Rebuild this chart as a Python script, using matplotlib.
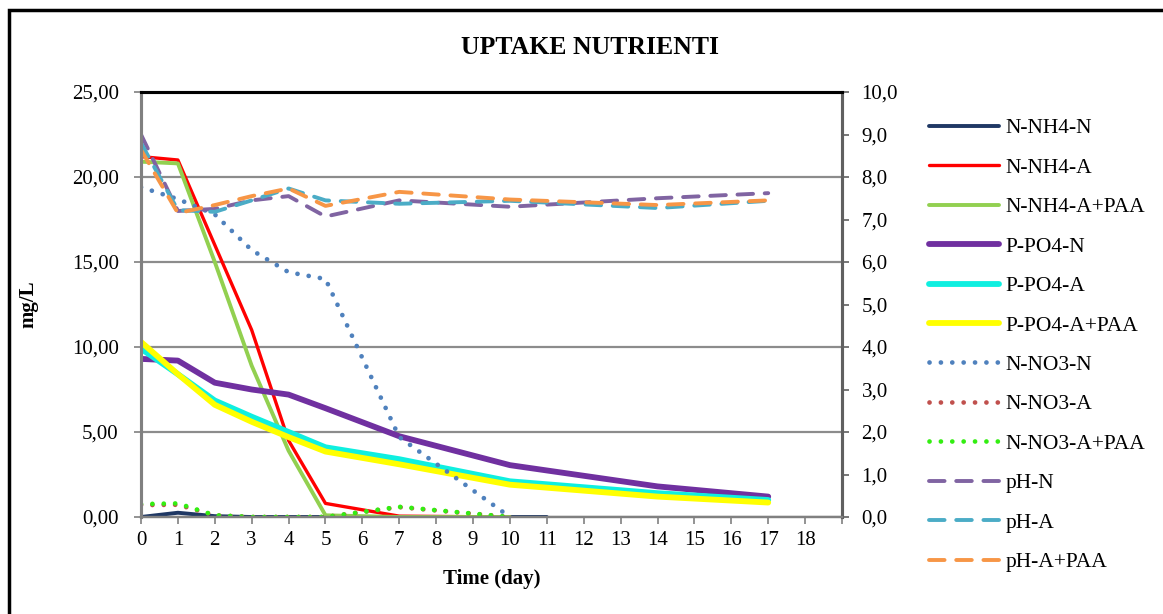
"""Uptake nutrienti: nutrient and pH trends over time."""

import matplotlib

matplotlib.use("Agg")
import matplotlib.pyplot as plt
from matplotlib.patches import Rectangle
from matplotlib.ticker import FuncFormatter

plt.rcParams["font.family"] = ["Liberation Serif", "DejaVu Serif"]

# Sampling days
days = [0, 1, 2, 3, 4, 5, 7, 10, 14, 17]
days_nh4_n = [0, 1, 2, 3, 4, 5, 7, 10, 11]
days_nh4 = [0, 1, 2, 3, 4, 5, 7, 10]
days_no3 = [0, 1, 2, 3, 4, 5, 7, 10]

# Left axis (mg/L)
nh4_n = [0.0, 0.25, 0.05, 0.0, 0.0, 0.0, 0.0, 0.0, 0.0]
nh4_a = [21.2, 21.0, 16.0, 11.0, 4.5, 0.8, 0.05, 0.0]
nh4_a_paa = [20.9, 20.8, 15.0, 8.9, 3.9, 0.1, 0.0, 0.0]
po4_n = [9.3, 9.2, 7.9, 7.5, 7.2, 6.4, 4.75, 3.05, 1.8, 1.2]
po4_a = [9.9, 8.4, 6.85, 5.9, 5.0, 4.1, 3.4, 2.1, 1.4, 1.0]
po4_a_paa = [10.3, 8.4, 6.6, 5.6, 4.7, 3.85, 3.1, 1.9, 1.2, 0.85]
no3_n = [19.4, 18.7, 17.8, 15.7, 14.4, 14.0, 4.7, 0.0]
no3_a = [0.7, 0.72, 0.1, 0.0, 0.0, 0.0, 0.58, 0.0]
no3_a_paa = [0.76, 0.8, 0.1, 0.0, 0.0, 0.0, 0.6, 0.0]

# Right axis (pH)
ph_n = [9.0, 7.2, 7.25, 7.45, 7.55, 7.07, 7.45, 7.3, 7.5, 7.62]
ph_a = [8.8, 7.22, 7.18, 7.45, 7.73, 7.45, 7.37, 7.44, 7.27, 7.44]
ph_a_paa = [8.64, 7.15, 7.34, 7.55, 7.73, 7.32, 7.65, 7.47, 7.34, 7.45]

fig = plt.figure(figsize=(11.63, 6.14), dpi=100)
ax = fig.add_axes([141 / 1163, 1 - 517 / 614, 701 / 1163, 425 / 614])
ax2 = ax.twinx()

solid = dict(solid_capstyle="round", solid_joinstyle="round")
h1, = ax.plot(days_nh4_n, nh4_n, color="#1F3864", lw=2.8, label="N-NH4-N", **solid)
h2, = ax.plot(days_nh4, nh4_a, color="#FF0000", lw=2.4, label="N-NH4-A", **solid)
h3, = ax.plot(days_nh4, nh4_a_paa, color="#92D050", lw=2.8, label="N-NH4-A+PAA", **solid)
h4, = ax.plot(days, po4_n, color="#7030A0", lw=4.2, label="P-PO4-N", **solid)
h5, = ax.plot(days, po4_a, color="#0FEFE0", lw=4.2, label="P-PO4-A", **solid)
h6, = ax.plot(days, po4_a_paa, color="#FFFF00", lw=4.2, label="P-PO4-A+PAA", **solid)

dots = dict(lw=3.4, linestyle=(0, (0.01, 2.4)), dash_capstyle="round")
h7, = ax.plot(days_no3, no3_n, color="#4F81BD", label="N-NO3-N", **dots)
h8, = ax.plot(days_no3, no3_a, color="#C0504D", label="N-NO3-A", **dots)
h9, = ax.plot(days_no3, no3_a_paa, color="#33EE11", label="N-NO3-A+PAA", **dots)

dash = dict(lw=2.8, linestyle=(0, (4, 3)), dash_capstyle="round")
h10, = ax2.plot(days, ph_n, color="#8064A2", label="pH-N", **dash)
h11, = ax2.plot(days, ph_a, color="#4BACC6", label="pH-A", **dash)
h12, = ax2.plot(days, ph_a_paa, color="#F79646", label="pH-A+PAA", **dash)

ax.set_xlim(0, 19)
ax.set_ylim(0, 25)
ax2.set_ylim(0, 10)
ax.set_xticks(range(0, 20))
ax.set_xticklabels([str(d) for d in range(0, 19)] + [""])
ax.set_yticks(range(0, 26, 5))
ax2.set_yticks(range(0, 11))
ax.yaxis.set_major_formatter(FuncFormatter(lambda v, p: f"{v:.2f}".replace(".", ",")))
ax2.yaxis.set_major_formatter(FuncFormatter(lambda v, p: f"{v:.1f}".replace(".", ",")))

ax.grid(axis="y", color="#8C8C8C", lw=1.6)
ax.set_axisbelow(True)
for a in (ax, ax2):
    a.spines["top"].set_color("black")
    a.spines["top"].set_linewidth(2.2)
    a.spines["left"].set_color("#808080")
    a.spines["left"].set_linewidth(2.2)
    a.spines["right"].set_color("#606060")
    a.spines["right"].set_linewidth(2.2)
    a.spines["bottom"].set_color("#808080")
    a.spines["bottom"].set_linewidth(1.6)

ax.tick_params(axis="x", labelsize=15, length=5, width=1.2, color="#808080", pad=5)
ax.tick_params(axis="y", labelsize=15, length=5, width=1.2, color="#808080", pad=11)
ax2.tick_params(axis="y", labelsize=15, length=5, width=1.2, color="#606060", pad=9)

ax.set_ylabel("mg/L", fontsize=15, fontweight="bold", labelpad=24)
ax.set_xlabel("Time (day)", fontsize=15, fontweight="bold", labelpad=14)
fig.text(590 / 1163, 1 - 47 / 614, "UPTAKE NUTRIENTI", fontsize=18.5, fontweight="bold",
         ha="center", va="center")

handles = [h1, h2, h3, h4, h5, h6, h7, h8, h9, h10, h11, h12]
fig.legend(handles=handles, labels=[h.get_label() for h in handles],
           loc="upper left", bbox_to_anchor=(912 / 1163, 1 - 101 / 614),
           frameon=False, fontsize=15.5, handlelength=3.25, labelspacing=0.9,
           handletextpad=0.3, borderpad=0.3)

fig.add_artist(Rectangle((9 / 1163, -0.2), 2.0, 1.2 - 10 / 614, transform=fig.transFigure,
                         fill=False, edgecolor="black", lw=2.5))

fig.savefig("out.png", dpi=100)
